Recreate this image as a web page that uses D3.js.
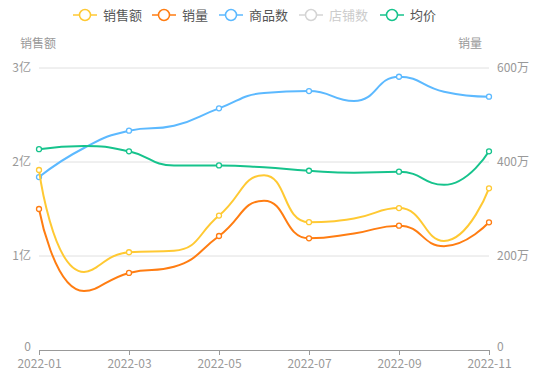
<!DOCTYPE html>
<html>
  <meta charset="utf-8">
  <head>
    <script src="https://d3js.org/d3.v7.min.js"></script>
    <style>
      body { margin: 0; background: #fff; }
      text { font-family: "Noto Sans CJK SC", "Noto Sans", sans-serif; }
    </style>
  </head>
  <body>
    <div id="viz"></div>

    <script type="text/javascript">
      // data
      var months = ["2022-01", "2022-02", "2022-03", "2022-04", "2022-05", "2022-06",
                    "2022-07", "2022-08", "2022-09", "2022-10", "2022-11"];
      var sales = [1.915, 0.83, 1.04, 1.056, 1.43, 1.86, 1.36, 1.40, 1.51, 1.16, 1.72];       // 亿
      var volume = [300, 125.5, 164, 177, 242.6, 317.7, 237.7, 248, 264.5, 221, 271.7];       // 万
      var products = [1840, 2149, 2333, 2386, 2571, 2734, 2755, 2649, 2907, 2748, 2695];
      var avgPrice = [64.1, 65.1, 63.4, 58.9, 58.9, 58.3, 57.2, 56.6, 56.9, 52.7, 63.4];
      var leftTicks = [0, 1, 2, 3];
      var rightTicks = [0, 200, 400, 600];

      var width = 543, height = 391;
      var margin = {top: 68, right: 54, bottom: 41, left: 39};
      var innerW = width - margin.left - margin.right;
      var innerH = height - margin.top - margin.bottom;

      var svg = d3.select("#viz").append("svg")
        .attr("width", width)
        .attr("height", height);

      var x = d3.scalePoint().domain(months).range([margin.left, margin.left + innerW]);
      var yLeft = d3.scaleLinear().domain([0, 3]).range([margin.top + innerH, margin.top]);
      var yRight = d3.scaleLinear().domain([0, 600]).range([margin.top + innerH, margin.top]);
      var yProd = d3.scaleLinear().domain([0, 3000]).range([margin.top + innerH, margin.top]);
      var yPrice = d3.scaleLinear().domain([0, 90]).range([margin.top + innerH, margin.top]);

      // grid lines
      svg.append("g").selectAll("line")
        .data(leftTicks.filter((d) => d > 0))
        .enter().append("line")
          .attr("x1", margin.left).attr("x2", margin.left + innerW)
          .attr("y1", (d) => yLeft(d)).attr("y2", (d) => yLeft(d))
          .attr("stroke", "#e0e0e0").attr("stroke-width", 1);

      // left axis labels
      svg.append("g").selectAll("text")
        .data(leftTicks)
        .enter().append("text")
          .attr("x", 31).attr("y", (d) => yLeft(d))
          .attr("dy", (d) => d === 0 ? "0.1em" : "0.35em").attr("text-anchor", "end")
          .attr("font-size", 12).attr("fill", "#999")
          .text((d) => d === 0 ? "0" : d + "亿");

      // right axis labels
      svg.append("g").selectAll("text")
        .data(rightTicks)
        .enter().append("text")
          .attr("x", 497).attr("y", (d) => yRight(d))
          .attr("dy", (d) => d === 0 ? "0.1em" : "0.35em").attr("text-anchor", "start")
          .attr("font-size", 12).attr("fill", "#999")
          .text((d) => d === 0 ? "0" : d + "万");

      // axis names
      svg.append("text").attr("x", 38).attr("y", 48).attr("text-anchor", "middle")
        .attr("font-size", 12).attr("fill", "#999").text("销售额");
      svg.append("text").attr("x", 470).attr("y", 48).attr("text-anchor", "middle")
        .attr("font-size", 12).attr("fill", "#999").text("销量");

      // x axis
      var xAxis = svg.append("g")
        .attr("transform", "translate(0," + (margin.top + innerH) + ")")
        .call(d3.axisBottom(x)
          .tickValues(months.filter((d, i) => i % 2 === 0))
          .tickSizeInner(5).tickSizeOuter(0).tickPadding(4));
      xAxis.select(".domain").attr("stroke", "#999").attr("stroke-width", 1.2);
      xAxis.selectAll(".tick line").attr("stroke", "#999");
      xAxis.selectAll(".tick text").attr("fill", "#999").attr("font-size", 12)
        .attr("font-family", "'Liberation Sans', Arial, sans-serif");

      // ECharts-like smooth path (smooth = 0.5, clamped control points)
      function smoothPath(pts) {
        var s = 0.5, mn = Math.min, mx = Math.max;
        var p = "M" + pts[0][0] + "," + pts[0][1];
        var cpx0 = pts[0][0], cpy0 = pts[0][1];
        for (var i = 1; i < pts.length; i++) {
          var px = pts[i - 1][0], py = pts[i - 1][1];
          var xx = pts[i][0], yy = pts[i][1];
          var cpx1, cpy1, ncx, ncy;
          if (i === pts.length - 1) {
            cpx1 = xx; cpy1 = yy;
          } else {
            var nx = pts[i + 1][0], ny = pts[i + 1][1];
            var vx = nx - px, vy = ny - py;
            var lp = Math.hypot(xx - px, yy - py), ln = Math.hypot(nx - xx, ny - yy);
            var r = ln / (ln + lp);
            ncx = xx + vx * s * r; ncy = yy + vy * s * r;
            ncx = mx(mn(ncx, mx(nx, xx)), mn(nx, xx));
            ncy = mx(mn(ncy, mx(ny, yy)), mn(ny, yy));
            vx = ncx - xx; vy = ncy - yy;
            cpx1 = xx - vx * lp / ln; cpy1 = yy - vy * lp / ln;
            cpx1 = mx(mn(cpx1, mx(px, xx)), mn(px, xx));
            cpy1 = mx(mn(cpy1, mx(py, yy)), mn(py, yy));
            vx = xx - cpx1; vy = yy - cpy1;
            ncx = xx + vx * ln / lp; ncy = yy + vy * ln / lp;
          }
          p += "C" + cpx0 + "," + cpy0 + "," + cpx1 + "," + cpy1 + "," + xx + "," + yy;
          cpx0 = ncx; cpy0 = ncy;
        }
        return p;
      }

      var series = [
        {name: "销售额", color: "#ffc933", values: sales, y: yLeft},
        {name: "销量", color: "#ff7d12", values: volume, y: yRight},
        {name: "商品数", color: "#5cb9ff", values: products, y: yProd},
        {name: "均价", color: "#16c38c", values: avgPrice, y: yPrice}
      ];
      // draw order: last drawn on top
      var drawOrder = [series[2], series[3], series[0], series[1]];

      drawOrder.forEach(function (s) {
        var pts = s.values.map((v, i) => [x(months[i]), s.y(v)]);
        svg.append("path")
          .attr("d", smoothPath(pts))
          .attr("fill", "none").attr("stroke", s.color).attr("stroke-width", 2);
        svg.append("g").selectAll("circle")
          .data(pts.filter((d, i) => i % 2 === 0))
          .enter().append("circle")
            .attr("cx", (d) => d[0]).attr("cy", (d) => d[1]).attr("r", 2.5)
            .attr("fill", "#fff").attr("stroke", s.color).attr("stroke-width", 1.3);
      });

      // legend
      var legendItems = [
        {name: "销售额", color: "#ffc933", x: 73},
        {name: "销量", color: "#ff7d12", x: 152},
        {name: "商品数", color: "#5cb9ff", x: 219},
        {name: "店铺数", color: "#d4d4d4", x: 299, off: true},
        {name: "均价", color: "#16c38c", x: 380}
      ];
      var lg = svg.append("g").selectAll("g")
        .data(legendItems)
        .enter().append("g")
          .attr("transform", (d) => "translate(" + d.x + ",15)");
      lg.append("line").attr("x1", 0).attr("x2", 24)
        .attr("stroke", (d) => d.color).attr("stroke-width", 1.5);
      lg.append("circle").attr("cx", 12).attr("r", 5.5)
        .attr("fill", "#fff").attr("stroke", (d) => d.color).attr("stroke-width", 1.5);
      lg.append("text").attr("x", 30).attr("dy", "0.36em")
        .attr("font-size", 13)
        .attr("fill", (d) => d.off ? "#ccc" : "#555")
        .text((d) => d.name);
    </script>
  </body>
</html>
